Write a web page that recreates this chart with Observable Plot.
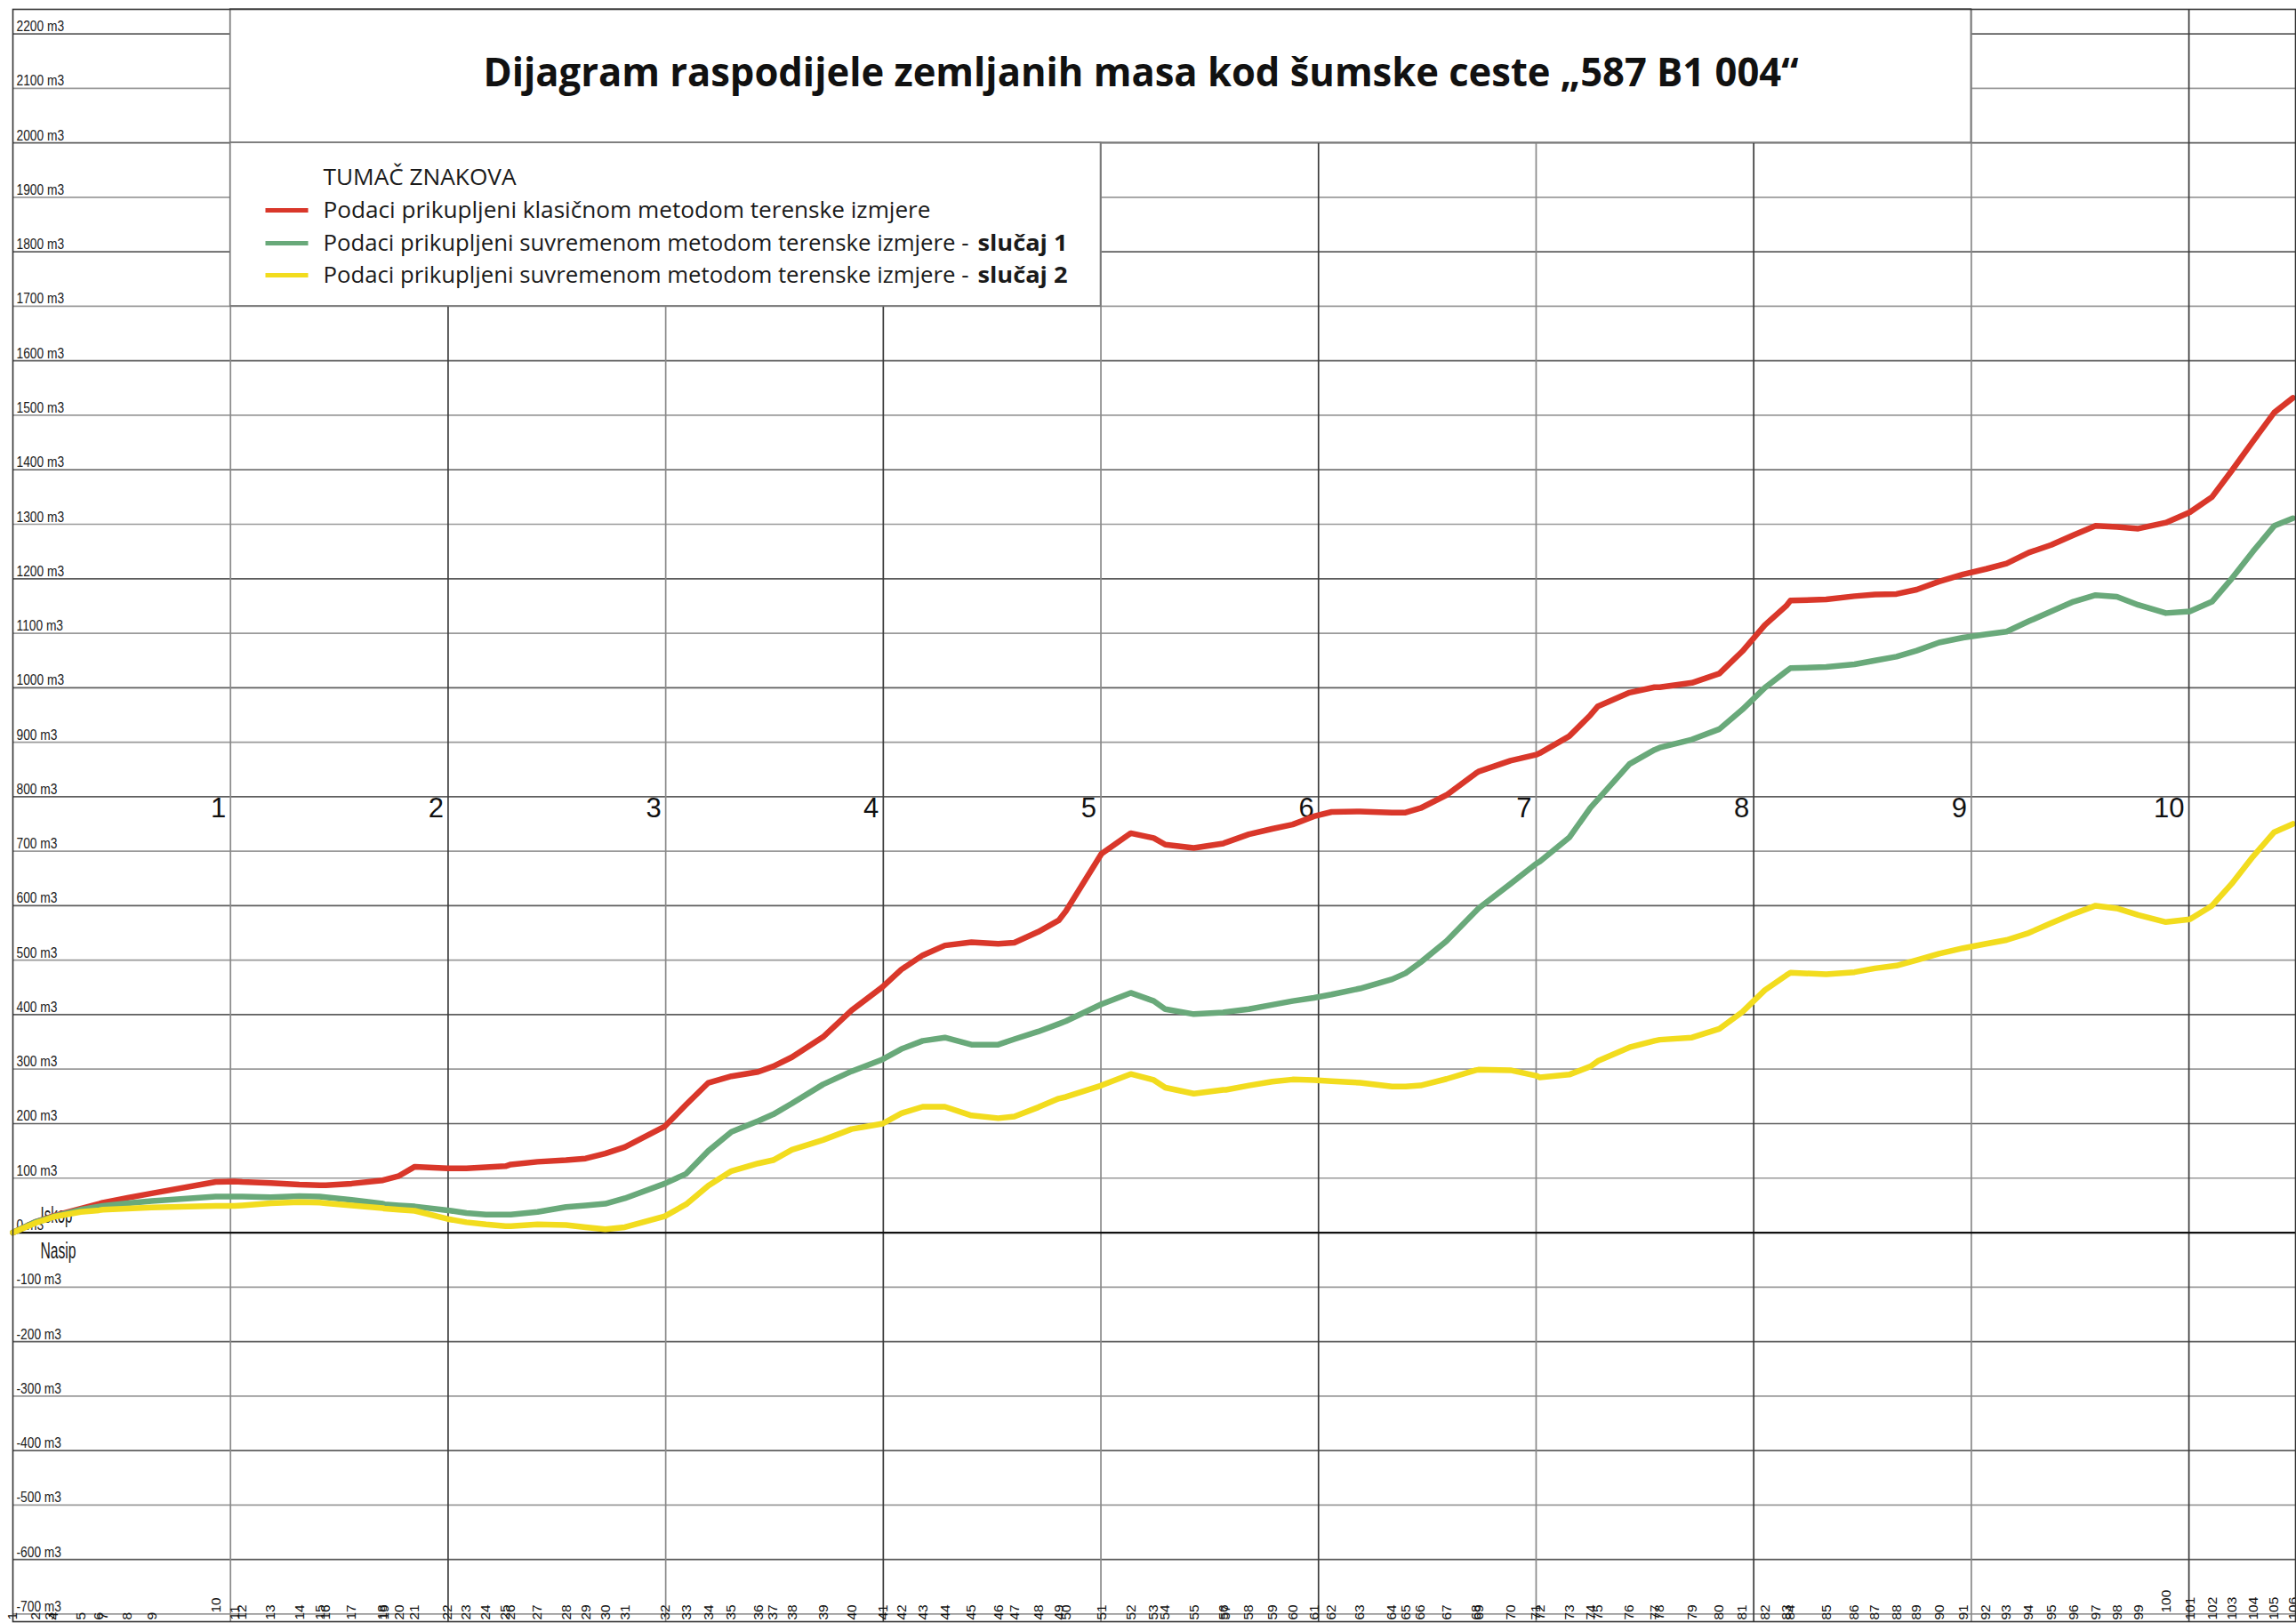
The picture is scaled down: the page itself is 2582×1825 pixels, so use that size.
<!DOCTYPE html>
<html><head><meta charset="utf-8">
<script src="https://cdn.jsdelivr.net/npm/d3@7"></script>
<script src="https://cdn.jsdelivr.net/npm/@observablehq/plot@0.6"></script>
<style>html,body{margin:0;padding:0;background:#fff;overflow:hidden}</style>
</head><body><div id="chart"></div>
<script>
// ---------- DATA ----------
const stationLabels = ["1","2","3","4","5","6","7","8","9","10","11","12","13","14","15","16","17","18","19","20","21","22","23","24","25","26","27","28","29","30","31","32","33","34","35","36","37","38","39","40","41","42","43","44","45","46","47","48","49","50","51","52","53","54","55","56","57","58","59","60","61","62","63","64","65","66","67","68","69","70","71","72","73","74","75","76","77","78","79","80","81","82","83","84","85","86","87","88","89","90","91","92","93","94","95","96","97","98","99","100","101","102","103","104","105","106"];
// chainage of each profile (m)
const stationDist = [0,10.6,16.8,18.8,31.1,39.6,41.3,52.7,63.8,93.2,101.8,105.4,118.5,131.6,141.0,143.8,155.7,170.0,170.8,177.4,184.7,199.8,208.4,217.4,226.4,228.8,241.1,254.2,263.2,272.2,281.2,299.6,309.4,319.6,330.2,342.5,349.4,358.0,372.3,385.4,399.7,408.3,418.1,428.3,440.5,452.8,460.2,471.2,480.6,483.9,500.2,513.7,524.3,529.6,542.7,556.2,557.4,568.0,578.7,588.1,597.9,606.0,619.1,633.8,640.0,646.9,658.8,672.3,673.5,688.2,700.0,701.7,715.2,725.0,728.4,742.9,754.4,756.8,771.6,784.2,794.8,805.1,814.9,816.9,833.3,846.3,855.7,865.6,874.9,885.2,896.2,906.8,916.2,926.4,936.7,946.9,957.1,966.9,976.7,989.4,1000.4,1010.6,1019.6,1029.4,1039.2,1047.8];
// cumulative earth mass (m3)
const classicRed = [0,20,28,31,44,53,55,64,72,93,94,93,91,88,87,87,90,96,97,104,121,118,118,120,122,125,130,133,136,145,157,195,235,275,287,295,305,322,359,408,451,483,509,527,533,530,532,552,573,590,695,733,724,712,706,714,716,731,741,749,764,772,773,771,771,779,803,843,846,866,877,880,911,950,966,991,1001,1001,1009,1026,1067,1115,1150,1160,1162,1168,1171,1172,1180,1195,1208,1218,1228,1248,1262,1280,1297,1295,1292,1303,1322,1350,1398,1452,1505,1532];
const modern1Green = [0,20,27,30,42,48,49,54,58,66,66,66,65,67,66,65,60,53,52,50,48,41,36,33,33,33,38,47,50,53,63,90,108,150,185,205,217,237,272,296,318,337,352,358,345,345,355,369,383,388,419,440,425,410,401,404,405,410,418,425,431,437,448,465,476,496,535,590,595,640,677,681,725,780,795,860,886,890,905,924,960,1000,1030,1036,1038,1043,1050,1057,1068,1083,1092,1098,1103,1122,1140,1158,1170,1167,1152,1137,1140,1158,1200,1250,1297,1311];
const modern2Yellow = [0,18,26,29,38,41,42,44,46,49,49,50,54,56,55,54,50,45,44,42,40,25,19,15,12,12,15,14,10,6,10,30,52,86,113,127,133,152,170,190,200,219,231,231,215,210,213,230,246,249,270,291,280,266,255,262,262,270,277,281,280,278,275,268,268,270,282,298,299,298,288,285,290,305,315,340,352,354,358,374,405,445,472,477,474,478,485,490,500,512,522,530,537,550,568,585,600,595,583,570,575,600,640,690,735,750];

const yTickValues = [2200,2100,2000,1900,1800,1700,1600,1500,1400,1300,1200,1100,1000,900,800,700,600,500,400,300,200,100,0,-100,-200,-300,-400,-500,-600,-700];
const hectoMarks = [100,200,300,400,500,600,700,800,900,1000];
const hectoLabels = ["1","2","3","4","5","6","7","8","9","10"];
const raisedLabels = ["10","100"];

const titleText = "Dijagram raspodijele zemljanih masa kod šumske ceste „587 B1 004“";
const legendTitle = "TUMAČ ZNAKOVA";
const legendTexts = ["Podaci prikupljeni klasičnom metodom terenske izmjere",
                     "Podaci prikupljeni suvremenom metodom terenske izmjere -",
                     "Podaci prikupljeni suvremenom metodom terenske izmjere -"];
const legendBold = ["", "slučaj 1", "slučaj 2"];
const seriesColors = ["#d9372a", "#69a97a", "#f2dc1e"];
const zoneLabels = ["Iskop", "Nasip"];

// ---------- LAYOUT ----------
const W = 2582, H = 1825, mL = 14, mR = 1, mT = 10, mB = 2;
const xDom = [0, 1049], yDom = [-714, 2245];
const X = px => xDom[0] + (px - mL) / (W - mL - mR) * (xDom[1] - xDom[0]);
const Y = py => yDom[1] - (py - mT) / (H - mT - mB) * (yDom[1] - yDom[0]);

const table = stationDist.map((d, i) => ({
  dist: d, label: stationLabels[i],
  red: classicRed[i], green: modern1Green[i], yellow: modern2Yellow[i]
}));

const legendRows = legendTexts.map((t, i) => ({
  text: t, bold: legendBold[i], color: seriesColors[i],
  base: [244, 281, 317][i]
}));

const narrow = "'Liberation Sans Narrow','Arial Narrow','Liberation Sans',Arial,sans-serif";
const sans = "'Liberation Sans',Arial,sans-serif";
const open = "'Open Sans','Noto Sans',sans-serif";

const svg = Plot.plot({
  width: W, height: H,
  marginLeft: mL, marginRight: mR, marginTop: mT, marginBottom: mB,
  x: {domain: xDom, axis: null},
  y: {domain: yDom, axis: null},
  style: {background: "#fff", fontFamily: sans},
  marks: [
    // horizontal grid
    Plot.ruleY(yTickValues.filter(v => v !== 0), {
      stroke: d => (Math.abs(d / 100) % 2 === 0) ? "#5e5e5e" : "#9a9a9a", strokeWidth: 1.7
    }),
    // hectometer lines
    Plot.ruleX(hectoMarks, {
      stroke: d => (d / 100) % 2 === 0 ? "#3c3c3c" : "#8a8a8a", strokeWidth: 1.7
    }),
    // title box and legend box (cover the grid)
    Plot.rect([{x1: hectoMarks[0], x2: hectoMarks[8], y1: 2000, y2: yDom[1]}],
      {x1: "x1", x2: "x2", y1: "y1", y2: "y2", fill: "#fff", stroke: "#7a7a7a", strokeWidth: 1.7}),
    Plot.rect([{x1: hectoMarks[0], x2: hectoMarks[4], y1: 1700, y2: 2000}],
      {x1: "x1", x2: "x2", y1: "y1", y2: "y2", fill: "#fff", stroke: "#7a7a7a", strokeWidth: 1.7}),
    // zero line
    Plot.ruleY([0], {stroke: "#111", strokeWidth: 2.2}),
    // y labels
    Plot.text(yTickValues, {
      x: xDom[0], y: d => d, text: d => `${d} m3`, dx: 4, dy: -3,
      textAnchor: "start", lineAnchor: "bottom", fontSize: 16, fill: "#1a1a1a", fontFamily: sans
    }),
    // zone labels
    Plot.text(zoneLabels, {
      x: X(45), y: (d, i) => Y([1374, 1414][i]), text: d => d,
      textAnchor: "start", lineAnchor: "bottom", fontSize: 25, fill: "#1a1a1a", fontFamily: narrow
    }),
    // hectometer labels
    Plot.text(hectoMarks, {
      x: d => d, y: Y(918), text: (d, i) => hectoLabels[i], dx: -5,
      textAnchor: "end", lineAnchor: "bottom", fontSize: 31, fill: "#111", fontFamily: narrow
    }),
    // station labels (rotated)
    Plot.text(table, {
      x: "dist", y: d => raisedLabels.includes(d.label) ? Y(1813) : Y(1821), text: "label",
      rotate: -90, textAnchor: "start", lineAnchor: "middle", fontSize: 15.5, fill: "#111", fontFamily: sans
    }),
    // series lines
    Plot.line(table, {x: "dist", y: "red", stroke: seriesColors[0], strokeWidth: 6.5, strokeLinejoin: "round", strokeLinecap: "round"}),
    Plot.line(table, {x: "dist", y: "green", stroke: seriesColors[1], strokeWidth: 6.5, strokeLinejoin: "round", strokeLinecap: "round"}),
    Plot.line(table, {x: "dist", y: "yellow", stroke: seriesColors[2], strokeWidth: 6.5, strokeLinejoin: "round", strokeLinecap: "round"}),
    // title
    Plot.text([titleText], {
      x: X(543), y: Y(96), text: d => d, textAnchor: "start", lineAnchor: "bottom",
      fontSize: 44, fontWeight: "bold", fill: "#111", fontFamily: open
    }),
    // legend
    Plot.text([legendTitle], {
      x: X(363), y: Y(207), text: d => d, textAnchor: "start", lineAnchor: "bottom",
      fontSize: 25, fill: "#1a1a1a", fontFamily: open
    }),
    Plot.link(legendRows, {
      x1: X(298), x2: X(346), y1: d => Y(d.base - 8), y2: d => Y(d.base - 8),
      stroke: "color", strokeWidth: 5
    }),
    Plot.text(legendRows, {
      x: X(363), y: d => Y(d.base), text: "text", textAnchor: "start", lineAnchor: "bottom",
      fontSize: 25, fill: "#1a1a1a", fontFamily: open
    }),
    Plot.text(legendRows.filter(d => d.bold), {
      x: X(1099), y: d => Y(d.base), text: "bold", textAnchor: "start", lineAnchor: "bottom",
      fontSize: 25, fontWeight: "bold", fill: "#1a1a1a", fontFamily: open
    }),
    Plot.frame({stroke: "#333", strokeWidth: 1.6})
  ]
});

document.getElementById("chart").appendChild(svg);

// fit text runs to the widths they occupy in the reference
const fit = (txt, len) => d3.select(svg).selectAll("text")
  .filter(function () { return this.textContent === txt; })
  .attr("textLength", len).attr("lengthAdjust", "spacingAndGlyphs");
fit(titleText, 1479);
fit(legendTitle, 217);
fit(legendTexts[0], 683);
fit(legendTexts[1], 726);
fit(legendBold[1], 101);
fit(legendBold[2], 101);
fit(zoneLabels[0], 36);
fit(zoneLabels[1], 40);
// the value labels use a condensed face in the reference
const yLabelSet = new Set(yTickValues.map(v => `${v} m3`));
d3.select(svg).selectAll("text")
  .filter(function () { return yLabelSet.has(this.textContent); })
  .each(function () {
    const w = this.getComputedTextLength();
    if (w > 0) d3.select(this).attr("textLength", w * 0.86).attr("lengthAdjust", "spacingAndGlyphs");
  });
</script>
</body></html>
